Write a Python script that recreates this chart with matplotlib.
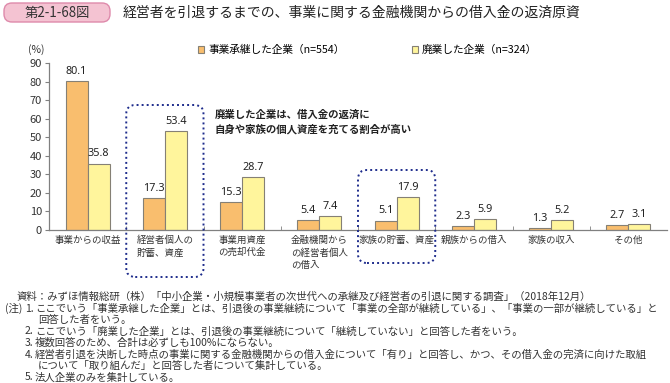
import matplotlib
matplotlib.use('Agg')
import matplotlib.pyplot as plt
import numpy as np
from matplotlib.patches import FancyBboxPatch, Patch
from matplotlib.transforms import IdentityTransform

plt.rcParams['font.family'] = ['Noto Sans CJK JP', 'DejaVu Sans']

# Data
categories = ['事業からの収益', '経営者個人の\n貯蓄、資産', '事業用資産\nの売却代金',
              '金融機関から\nの経営者個人\nの借入', '家族の貯蓄、資産', '親族からの借入',
              '家族の収入', 'その他']
succeeded = [80.1, 17.3, 15.3, 5.4, 5.1, 2.3, 1.3, 2.7]
closed = [35.8, 53.4, 28.7, 7.4, 17.9, 5.9, 5.2, 3.1]
series_names = ['事業承継した企業（n=554）', '廃業した企業（n=324）']
y_ticks = list(range(0, 91, 10))
highlight = [1, 4]  # categories with dotted frame

title_tag = '第2-1-68図'
title = '経営者を引退するまでの、事業に関する金融機関からの借入金の返済原資'
note_box = '廃業した企業は、借入金の返済に\n自身や家族の個人資産を充てる割合が高い'
source = '資料：みずほ情報総研（株）「中小企業・小規模事業者の次世代への承継及び経営者の引退に関する調査」（2018年12月）'
notes = [
    ('1.', 'ここでいう「事業承継した企業」とは、引退後の事業継続について「事業の全部が継続している」、「事業の一部が継続している」と'),
    ('', '回答した者をいう。'),
    ('2.', 'ここでいう「廃業した企業」とは、引退後の事業継続について「継続していない」と回答した者をいう。'),
    ('3.', '複数回答のため、合計は必ずしも100%にならない。'),
    ('4.', '経営者引退を決断した時点の事業に関する金融機関からの借入金について「有り」と回答し、かつ、その借入金の完済に向けた取組'),
    ('', 'について「取り組んだ」と回答した者について集計している。'),
    ('5.', '法人企業のみを集計している。'),
]

orange = '#F9BE6E'
yellow = '#FFF59C'
edge = '#858075'
navy = '#1E2C8C'

W, H = 670, 383
fig = plt.figure(figsize=(W / 100, H / 100), dpi=100)
ax = fig.add_axes([49 / W, 1 - 230 / H, 618 / W, 167 / H])

x = np.arange(len(categories))
bw = 0.285
b1 = ax.bar(x - bw / 2, succeeded, bw, color=orange, edgecolor=edge, linewidth=0.8)
b2 = ax.bar(x + bw / 2, closed, bw, color=yellow, edgecolor=edge, linewidth=0.8)

for bars in (b1, b2):
    for bar in bars:
        h = bar.get_height()
        ax.text(bar.get_x() + bar.get_width() / 2, h + 2.2, f'{h:.1f}',
                ha='center', va='bottom', fontsize=7.8, color='#222222',
                family=['Noto Sans', 'DejaVu Sans'])

ax.set_xlim(-0.5, len(categories) - 0.5)
ax.set_ylim(0, 90)
ax.set_yticks(y_ticks)
ax.tick_params(axis='y', length=3, width=0.8, color='#808080', labelsize=8,
               labelcolor='#333333', pad=2)
ax.set_xticks(x)
ax.set_xticklabels(categories, fontsize=6.8, color='#333333', linespacing=1.45)
for lbl in ax.get_xticklabels():
    lbl.set_multialignment('left')
ax.tick_params(axis='x', length=0, pad=4)
ax.set_xticks(np.arange(0.5, len(categories) - 0.5, 1), minor=True)
ax.tick_params(axis='x', which='minor', direction='in', length=3, color='#808080')
for s in ['top', 'right']:
    ax.spines[s].set_visible(False)
for s in ['left', 'bottom']:
    ax.spines[s].set_color('#808080')
    ax.spines[s].set_linewidth(0.9)

fig.text(28 / W, 1 - 50 / H, '(%)', fontsize=7.5, color='#333333', va='center')

# legend
handles = [Patch(facecolor=orange, edgecolor=edge, linewidth=0.8),
           Patch(facecolor=yellow, edgecolor=edge, linewidth=0.8)]
fig.legend(handles, series_names, loc='center left', bbox_to_anchor=(198 / W, 1 - 50 / H),
           ncol=2, frameon=False, fontsize=7.7, handlelength=0.55, handleheight=0.55,
           handletextpad=0.4, columnspacing=6.3, borderpad=0, borderaxespad=0)

# annotation
fig.text(215 / W, 1 - 122 / H, note_box, fontsize=7.5, color='#222222',
         va='center', ha='left', linespacing=1.45, weight='bold')

# dotted frames around the highlighted categories
fig.canvas.draw()
for i, (top, bottom) in zip(highlight, [(105, 277), (170, 263)]):
    x0 = ax.transData.transform((i - 0.5, 0))[0]
    x1 = ax.transData.transform((i + 0.5, 0))[0]
    box = FancyBboxPatch((x0, H - bottom), x1 - x0, bottom - top,
                         boxstyle='round,pad=0,rounding_size=9',
                         transform=IdentityTransform(), fill=False,
                         edgecolor=navy, linewidth=1.4, linestyle=(0, (1, 1.6)))
    fig.patches.append(box)

# title
tag = FancyBboxPatch((4, H - 22), 106, 19, boxstyle='round,pad=0,rounding_size=8',
                     transform=IdentityTransform(), facecolor='#F4C3D2',
                     edgecolor='#DE8AAB', linewidth=1)
fig.patches.append(tag)
fig.text(57 / W, 1 - 12.5 / H, title_tag, fontsize=9.6, ha='center', va='center',
         color='#333333')
fig.text(123 / W, 1 - 12.5 / H, title, fontsize=10, ha='left', va='center',
         color='#222222')

# footnotes
fs = 7.5
y0, dy = 297, 11.5
fig.text(17 / W, 1 - y0 / H, source, fontsize=fs, ha='left', va='center', color='#333333')
fig.text(5 / W, 1 - (y0 + dy) / H, '(注)', fontsize=fs, ha='left', va='center', color='#333333')
for k, (num, line) in enumerate(notes):
    yy = 1 - (y0 + dy * (k + 1)) / H
    if num:
        fig.text(25 / W, yy, num, fontsize=fs, ha='left', va='center', color='#333333')
        fig.text(35 / W, yy, line, fontsize=fs, ha='left', va='center', color='#333333')
    else:
        fig.text(38 / W, yy, line, fontsize=fs, ha='left', va='center', color='#333333')

fig.savefig('out.png', dpi=100)
